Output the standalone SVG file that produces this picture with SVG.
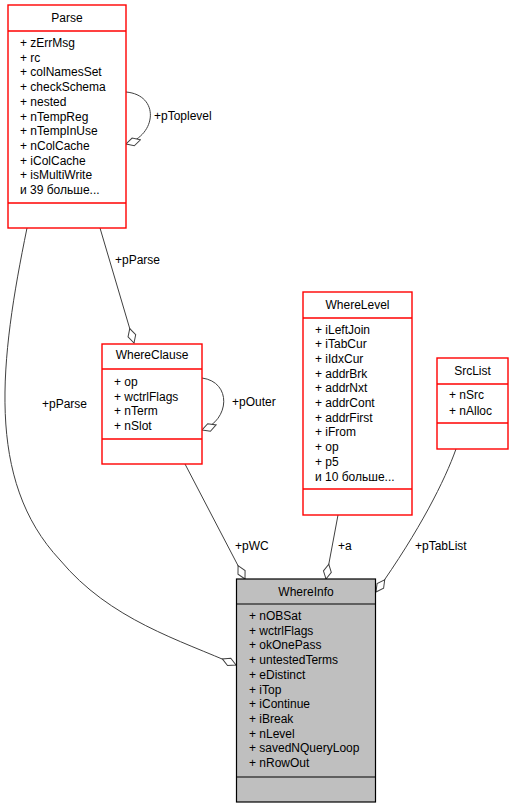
<svg xmlns="http://www.w3.org/2000/svg" width="513" height="808" viewBox="0 0 513 808">
<style>
text{font-family:"Liberation Sans",Arial,sans-serif;font-size:12px;fill:#000}
.t{text-anchor:middle}
.box{fill:#fff;stroke:#ff0000;stroke-width:1.4}
.gbox{fill:#bfbfbf;stroke:#000;stroke-width:1.2}
.sep{stroke:#ff0000;stroke-width:1.4}
.gsep{stroke:#000;stroke-width:1.2}
.edge{fill:none;stroke:#404040;stroke-width:1;marker-end:url(#dia)}
</style>
<defs>
<marker id="dia" viewBox="-16 -6 17 12" refX="0" refY="0" markerWidth="17" markerHeight="12" markerUnits="userSpaceOnUse" orient="auto">
<path d="M0,0 L-7.5,-4 L-15,0 L-7.5,4 Z" fill="#fff" stroke="#404040" stroke-width="1"/>
</marker>
</defs>
<rect width="513" height="808" fill="#fff"/>
<g id="connectors">
<path class="edge" d="M100,228 L134,343"/>
<path class="edge" d="M126,92 C160,95 157,135 126,144"/>
<path class="edge" d="M202,378 C232,382 230,420 202,430"/>
<path class="edge" d="M27,228 C0,360 -15,480 60,560 C110,620 180,640 236,665"/>
<path class="edge" d="M185,464 L245,579"/>
<path class="edge" d="M338,515 L326,579"/>
<path class="edge" d="M456,449 C445,480 420,530 376,592"/>
<text x="115" y="264">+pParse</text>
<text x="154" y="120">+pToplevel</text>
<text x="232" y="406">+pOuter</text>
<text x="42" y="408">+pParse</text>
<text x="235" y="550">+pWC</text>
<text x="338" y="550">+a</text>
<text x="415" y="550">+pTabList</text>
</g>
<g id="Parse">
<rect class="box" x="8" y="5" width="118" height="223"/>
<line class="sep" x1="8" y1="31" x2="126" y2="31"/>
<line class="sep" x1="8" y1="203" x2="126" y2="203"/>
<text class="t" x="67" y="21.5">Parse</text>
<text x="20" y="47">+ zErrMsg</text>
<text x="20" y="61.7">+ rc</text>
<text x="20" y="76.4">+ colNamesSet</text>
<text x="20" y="91.1">+ checkSchema</text>
<text x="20" y="105.8">+ nested</text>
<text x="20" y="120.5">+ nTempReg</text>
<text x="20" y="135.2">+ nTempInUse</text>
<text x="20" y="149.9">+ nColCache</text>
<text x="20" y="164.6">+ iColCache</text>
<text x="20" y="179.3">+ isMultiWrite</text>
<text x="20" y="194">и 39 больше...</text>
</g>
<g id="WhereClause">
<rect class="box" x="102" y="344" width="100" height="120"/>
<line class="sep" x1="102" y1="369" x2="202" y2="369"/>
<line class="sep" x1="102" y1="439" x2="202" y2="439"/>
<text class="t" x="152" y="359">WhereClause</text>
<text x="114" y="386">+ op</text>
<text x="114" y="400.5">+ wctrlFlags</text>
<text x="114" y="415">+ nTerm</text>
<text x="114" y="429.5">+ nSlot</text>
</g>
<g id="WhereLevel">
<rect class="box" x="303" y="292" width="109" height="223"/>
<line class="sep" x1="303" y1="318" x2="412" y2="318"/>
<line class="sep" x1="303" y1="489" x2="412" y2="489"/>
<text class="t" x="357.5" y="308.5">WhereLevel</text>
<text x="315" y="333.5">+ iLeftJoin</text>
<text x="315" y="348.2">+ iTabCur</text>
<text x="315" y="362.9">+ iIdxCur</text>
<text x="315" y="377.6">+ addrBrk</text>
<text x="315" y="392.3">+ addrNxt</text>
<text x="315" y="407">+ addrCont</text>
<text x="315" y="421.7">+ addrFirst</text>
<text x="315" y="436.4">+ iFrom</text>
<text x="315" y="451.1">+ op</text>
<text x="315" y="465.8">+ p5</text>
<text x="315" y="480.5">и 10 больше...</text>
</g>
<g id="SrcList">
<rect class="box" x="437" y="358" width="71" height="91"/>
<line class="sep" x1="437" y1="384" x2="508" y2="384"/>
<line class="sep" x1="437" y1="423" x2="508" y2="423"/>
<text class="t" x="472.5" y="374.5">SrcList</text>
<text x="449" y="399">+ nSrc</text>
<text x="449" y="414.5">+ nAlloc</text>
</g>
<g id="WhereInfo">
<rect class="gbox" x="236.5" y="579" width="139" height="223"/>
<line class="gsep" x1="236.5" y1="604" x2="375.5" y2="604"/>
<line class="gsep" x1="236.5" y1="777" x2="375.5" y2="777"/>
<text class="t" x="306" y="595.5">WhereInfo</text>
<text x="249" y="620">+ nOBSat</text>
<text x="249" y="634.7">+ wctrlFlags</text>
<text x="249" y="649.4">+ okOnePass</text>
<text x="249" y="664.1">+ untestedTerms</text>
<text x="249" y="678.8">+ eDistinct</text>
<text x="249" y="693.5">+ iTop</text>
<text x="249" y="708.2">+ iContinue</text>
<text x="249" y="722.9">+ iBreak</text>
<text x="249" y="737.6">+ nLevel</text>
<text x="249" y="752.3">+ savedNQueryLoop</text>
<text x="249" y="767">+ nRowOut</text>
</g>
</svg>
